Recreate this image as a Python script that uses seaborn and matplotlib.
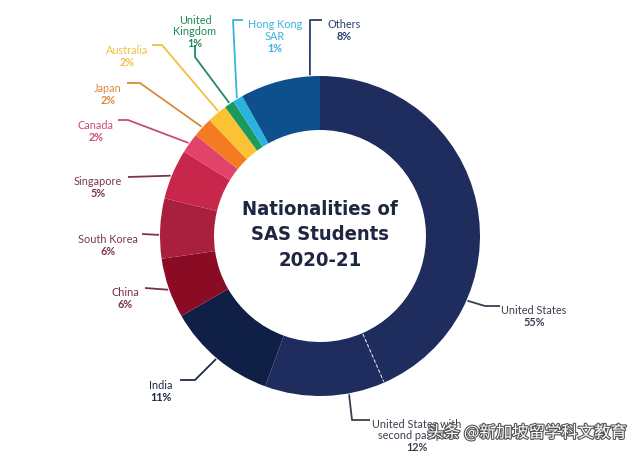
import numpy as np
import matplotlib
matplotlib.use("Agg")
import matplotlib.pyplot as plt
import matplotlib.patheffects as pe
from matplotlib import font_manager
import seaborn as sns

sns.set_theme(style="white")
plt.rcParams['font.family'] = ['Lato', 'DejaVu Sans']

# ---- data (percent of students) ----
countries = ["United States", "United States with\nsecond passport", "India", "China",
             "South Korea", "Singapore", "Canada", "Japan", "Australia",
             "United\nKingdom", "Hong Kong\nSAR", "Others"]
label_pcts = [55, 12, 11, 6, 6, 5, 2, 2, 2, 1, 1, 8]
# US 55% label includes the 12% with a second passport
us_total = 55
us_second = 12
values = [us_total - us_second] + label_pcts[1:]

colors = ["#1f2d5e", "#1f2d5e", "#0f1f45", "#8a0b24", "#a8203d", "#c8264a",
          "#e2436b", "#f37c22", "#fbc234", "#1c9a5d", "#2ab3df", "#0e4f8e"]
text_colors = ["#3a3f4d", "#3a3f4d", "#1f2a45", "#7a2f4b", "#7a3552", "#7a3552",
               "#c94d74", "#d98a3c", "#f0c040", "#1f8a5a", "#39b3dc", "#27406a"]

# ---- layout (pixel coordinates, y downward) ----
W, H = 640, 458
CX, CY, R, RIN = 320, 236, 160, 106
label_xy = [(534, 311), (417, 430), (161, 386), (125, 293), (108, 240), (98, 182),
            (96, 126), (108, 89), (127, 51), (195, 26), (275, 31), (344, 25)]
leaders = [
    (113.7, [(485, 306), (500, 306)]),
    (169.6, [(352, 420), (370, 420)]),
    (220.2, [(195, 380), (180, 380)]),
    (250.5, [(145, 288)]),
    (270.4, [(142, 234)]),
    (292.0, [(128, 177)]),
    (305.3, [(128, 120), (118, 120)]),
    (312.7, [(140, 83), (127, 83)]),
    (320.8, [(162, 45), (152, 45)]),
    (325.7, [(195, 57), (195, 45)]),
    (328.9, [(233, 20), (243, 20)]),
    (356.4, [(310, 20), (322, 20)]),
]

fig = plt.figure(figsize=(W / 100, H / 100), dpi=100)
ax = fig.add_axes([0, 0, 1, 1])


def py(y):
    return H - y


ax.pie(values, colors=colors, startangle=90, counterclock=False,
       center=(CX, py(CY)), radius=R,
       wedgeprops=dict(width=R - RIN, linewidth=0))

# dashed separator between US and US with second passport
frac = np.cumsum(values) / sum(values) * 360
th = np.deg2rad(frac[0])
rr = np.array([RIN + 1, R - 1])
ax.plot(CX + rr * np.sin(th), py(CY - rr * np.cos(th)), color="white",
        lw=0.8, ls=(0, (3, 2)), alpha=0.8)

# leaders and labels
for i, (ang, pts) in enumerate(leaders):
    t = np.deg2rad(ang)
    xs = [CX + (R + 1) * np.sin(t)] + [p[0] for p in pts]
    ys = [py(CY - (R + 1) * np.cos(t))] + [py(p[1]) for p in pts]
    ax.plot(xs, ys, color=text_colors[i], lw=1.3, solid_capstyle="butt")
    lx, ly = label_xy[i]
    name = countries[i]
    nlines = name.count("\n") + 1
    step = 11.5
    top = ly - (nlines) * step / 2
    ax.text(lx, py(top), name, ha="center", va="top", fontsize=7.8,
            color=text_colors[i], linespacing=1.1)
    ax.text(lx, py(top + nlines * step + 0.5), f"{label_pcts[i]}%", ha="center",
            va="top", fontsize=7.8, fontweight="bold", color=text_colors[i])

# centre title (narrow face if available)
narrow = None
for f in font_manager.fontManager.ttflist:
    if "Condensed" in f.fname and "Bold" in f.fname and "Oblique" not in f.fname:
        narrow = f.fname
        break
tkw = dict(ha="center", va="center", color="#1e2640", linespacing=1.45)
if narrow:
    fp = font_manager.FontProperties(fname=narrow, size=14.5)
    ax.text(CX, py(CY - 1), "Nationalities of\nSAS Students\n2020-21",
            fontproperties=fp, **tkw)
else:
    ax.text(CX, py(CY - 1), "Nationalities of\nSAS Students\n2020-21", fontsize=14,
            fontweight="bold", family=['Roboto'], **tkw)

# watermark
ax.text(527, py(433), "头条 @新加坡留学科文教育", ha="center", va="center",
        fontsize=11.8, color="white", family=['Noto Sans CJK SC', 'DejaVu Sans'],
        path_effects=[pe.withStroke(linewidth=1.6, foreground="#555555")])

ax.set_xlim(0, W)
ax.set_ylim(0, H)
ax.set_aspect("equal")
ax.axis("off")
fig.savefig("out.png", dpi=100, facecolor="white")
